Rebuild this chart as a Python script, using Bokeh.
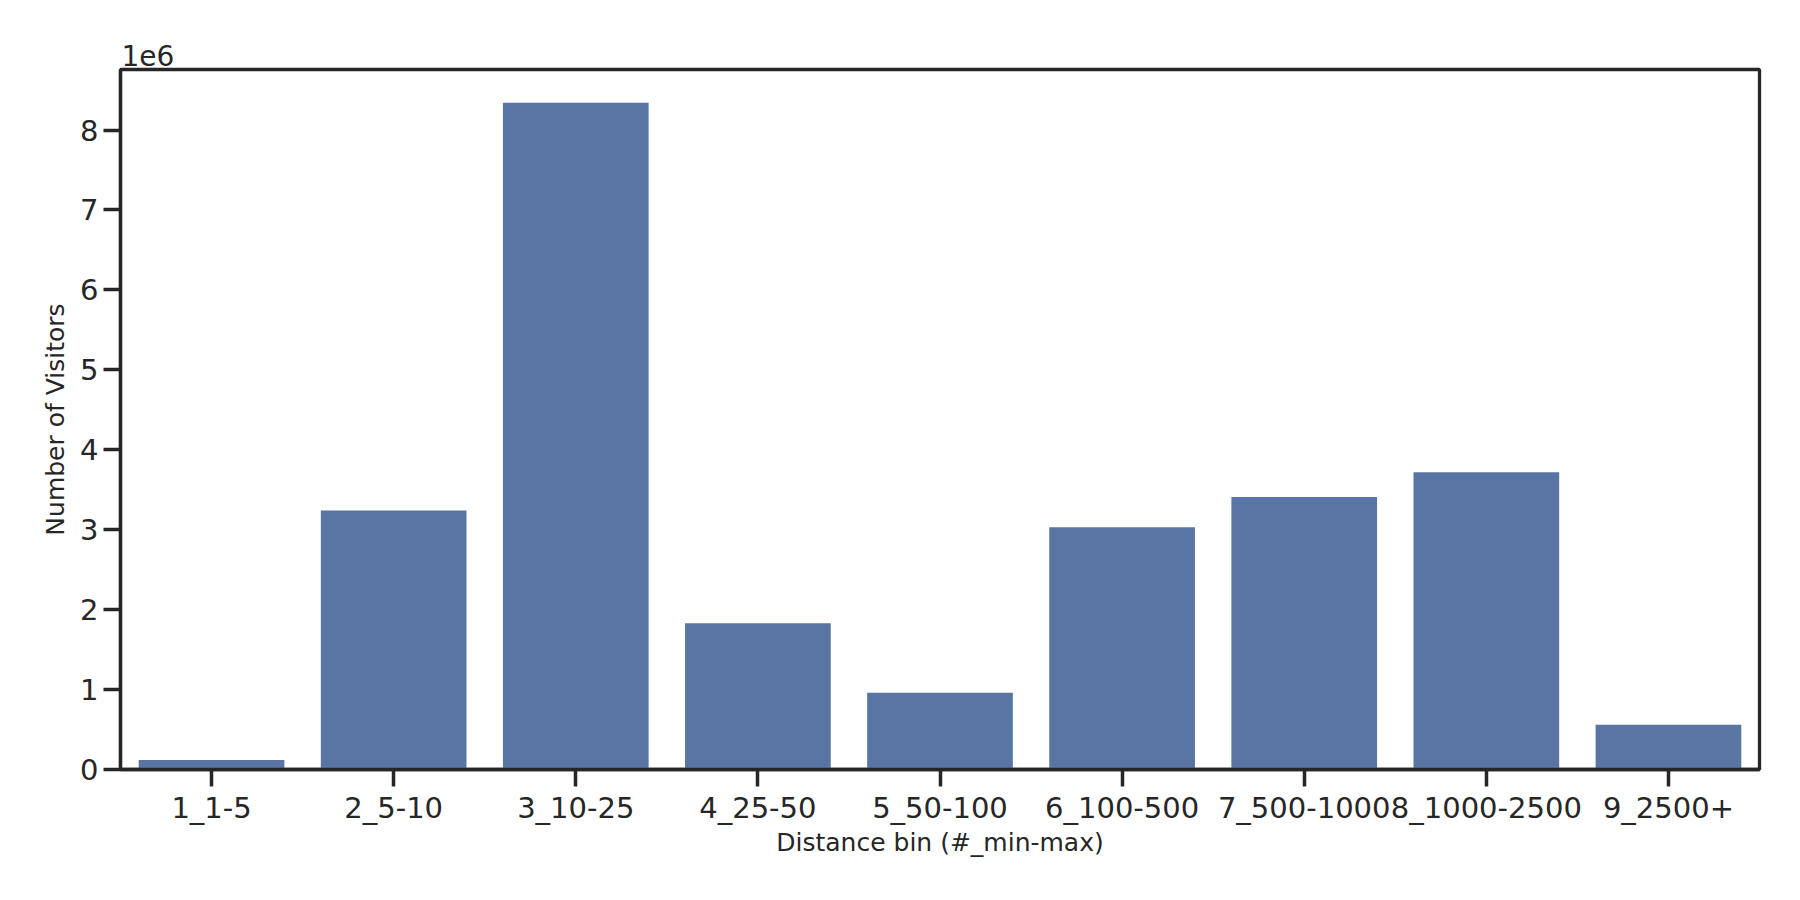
from bokeh.plotting import figure
from bokeh.models import (FactorRange, Range1d, FixedTicker, CustomJSTickFormatter,
                          ColumnDataSource, Title)
from bokeh.embed import file_html
from bokeh.resources import INLINE

categories = ["1_1-5", "2_5-10", "3_10-25", "4_25-50", "5_50-100",
              "6_100-500", "7_500-1000", "8_1000-2500", "9_2500+"]
visitors = [120000, 3240000, 8340000, 1830000, 960000,
            3030000, 3410000, 3720000, 560000]
y_ticks = [0, 1e6, 2e6, 3e6, 4e6, 5e6, 6e6, 7e6, 8e6]

INK = "#262626"
BAR = "#5975A4"
FONT = "DejaVu Sans"

source = ColumnDataSource(data=dict(cat=categories, val=visitors))
y_end = max(visitors) * 1.05

p = figure(
    x_range=FactorRange(*categories, range_padding=0),
    y_range=Range1d(0, y_end),
    frame_width=1639, frame_height=700,
    min_border_left=120, min_border_right=25,
    min_border_top=69, min_border_bottom=115,
    output_backend="svg", toolbar_location=None,
    title="1e6",
)
p.background_fill_color = "white"
p.border_fill_color = "white"

p.vbar(x="cat", top="val", width=0.8, source=source,
       fill_color=BAR, line_color=None)

p.xgrid.grid_line_color = None
p.ygrid.grid_line_color = None
p.outline_line_color = INK
p.outline_line_width = 3.3

p.title.text_font = FONT
p.title.text_font_size = "28px"
p.title.text_font_style = "normal"
p.title.text_color = INK
p.title.align = "left"
p.title.offset = 1
p.title.standoff = 8

for ax in (p.xaxis[0], p.yaxis[0]):
    ax.axis_line_color = INK
    ax.axis_line_width = 3.3
    ax.major_tick_line_color = INK
    ax.major_tick_line_width = 3.5
    ax.major_tick_out = 17
    ax.major_tick_in = 0
    ax.minor_tick_line_color = None
    ax.major_label_text_font = FONT
    ax.major_label_text_font_size = "29px"
    ax.major_label_text_color = INK
    ax.axis_label_text_font = FONT
    ax.axis_label_text_font_size = "25px"
    ax.axis_label_text_font_style = "normal"
    ax.axis_label_text_color = INK

p.xaxis.axis_label = "Distance bin (#_min-max)"
p.xaxis.major_label_standoff = 4
p.xaxis.axis_label_standoff = 0
p.xaxis.group_text_font_size = "0px"

p.yaxis.ticker = FixedTicker(ticks=y_ticks)
p.yaxis.formatter = CustomJSTickFormatter(code="return (tick / 1e6).toFixed(0);")
p.yaxis.major_label_standoff = 5

ytitle = Title(text="Number of Visitors", align="center",
               text_font=FONT, text_font_size="25px", text_font_style="normal",
               text_color=INK, standoff=15)
p.add_layout(ytitle, "left")

open("out.html", "w").write(file_html(p, INLINE))
